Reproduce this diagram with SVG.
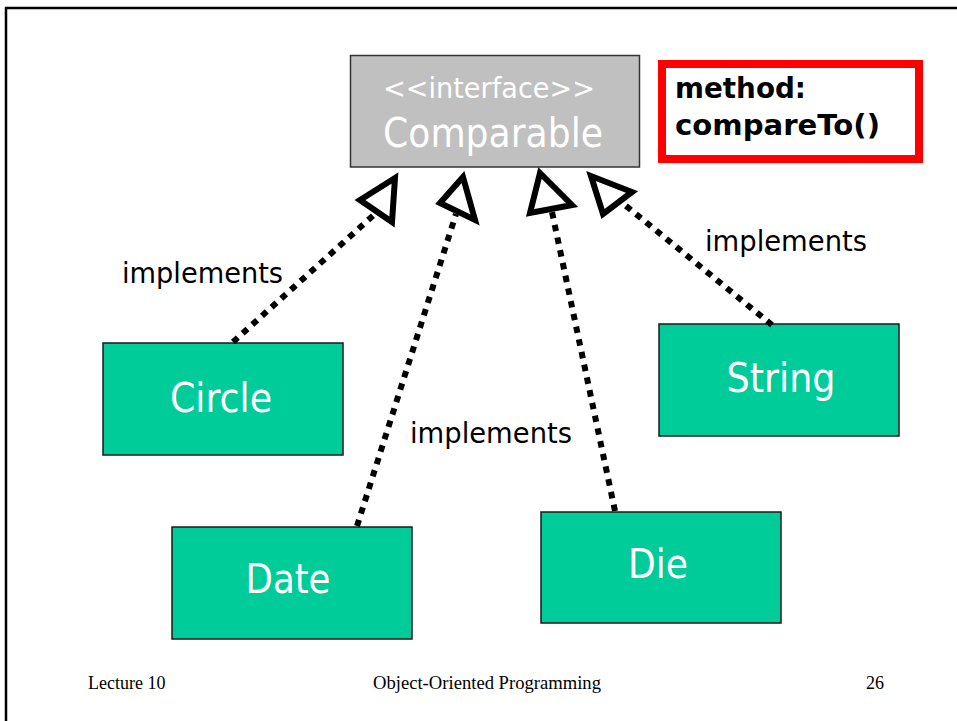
<svg xmlns="http://www.w3.org/2000/svg" width="957" height="721" viewBox="0 0 957 721">
<style>
.frame{stroke:#000;stroke-width:2.5;fill:none}
.cls{fill:#00cc99;stroke:#1a1a1a;stroke-width:1.5}
.lbl{font-family:"DejaVu Sans",Verdana,sans-serif;fill:#fff;text-anchor:middle}
.impl{font-family:"DejaVu Sans",Verdana,sans-serif;fill:#000;font-size:29px}
.dot{stroke:#000;stroke-width:6;stroke-dasharray:6.5 6.5;fill:none}
.head{fill:#fff;stroke:#000;stroke-width:6;stroke-linejoin:miter}
.foot{font-family:"Liberation Serif","Times New Roman",serif;font-size:18px;fill:#000}
</style>
<rect width="957" height="721" fill="#fff"/>
<path class="frame" d="M6,721 V8 H957"/>
<g id="comparable">
<rect x="350.5" y="55.5" width="289" height="111.5" fill="#c0c0c0" stroke="#333" stroke-width="1.5"/>
<text class="lbl" x="489" y="98" font-size="28" textLength="212" lengthAdjust="spacingAndGlyphs">&lt;&lt;interface&gt;&gt;</text>
<text class="lbl" x="493" y="147" font-size="40" textLength="220" lengthAdjust="spacingAndGlyphs">Comparable</text>
</g>
<g id="method-note">
<rect x="662" y="64" width="257" height="95" fill="#fff" stroke="#ff0000" stroke-width="8"/>
<text x="675" y="98" font-family="'DejaVu Sans',Verdana,sans-serif" font-weight="bold" font-size="29" textLength="131" lengthAdjust="spacingAndGlyphs">method:</text>
<text x="675" y="135" font-family="'DejaVu Sans',Verdana,sans-serif" font-weight="bold" font-size="29" textLength="205" lengthAdjust="spacingAndGlyphs">compareTo()</text>
</g>
<g id="circle">
<rect class="cls" x="103" y="343" width="240" height="112"/>
<text class="lbl" x="221" y="412" font-size="40" textLength="102" lengthAdjust="spacingAndGlyphs">Circle</text>
</g>
<g id="date">
<rect class="cls" x="172" y="527" width="240" height="112"/>
<text class="lbl" x="288" y="593" font-size="40" textLength="85" lengthAdjust="spacingAndGlyphs">Date</text>
</g>
<g id="die">
<rect class="cls" x="541" y="512" width="240" height="111"/>
<text class="lbl" x="658" y="578" font-size="40" textLength="60" lengthAdjust="spacingAndGlyphs">Die</text>
</g>
<g id="string">
<rect class="cls" x="659" y="324" width="240" height="112"/>
<text class="lbl" x="781" y="392" font-size="40" textLength="109" lengthAdjust="spacingAndGlyphs">String</text>
</g>
<g id="connectors">
<line class="dot" x1="233" y1="342" x2="376" y2="213"/>
<polygon class="head" points="395,178 360,200 392,222"/>
<line class="dot" x1="357" y1="526" x2="456" y2="214"/>
<polygon class="head" points="463,177 440,203 475,220"/>
<line class="dot" x1="615" y1="511" x2="552" y2="212"/>
<polygon class="head" points="540,173 530,213 572,205"/>
<line class="dot" x1="772" y1="325" x2="620" y2="201"/>
<polygon class="head" points="591,176 603,214 632,192"/>
<text class="impl" x="122" y="283" textLength="161" lengthAdjust="spacingAndGlyphs">implements</text>
<text class="impl" x="705" y="251" textLength="162" lengthAdjust="spacingAndGlyphs">implements</text>
<text class="impl" x="410" y="443" textLength="162" lengthAdjust="spacingAndGlyphs">implements</text>
</g>
<g id="footer">
<text class="foot" x="88" y="689">Lecture 10</text>
<text class="foot" x="373" y="689" textLength="228" lengthAdjust="spacingAndGlyphs">Object-Oriented Programming</text>
<text class="foot" x="866" y="689">26</text>
</g>
</svg>
